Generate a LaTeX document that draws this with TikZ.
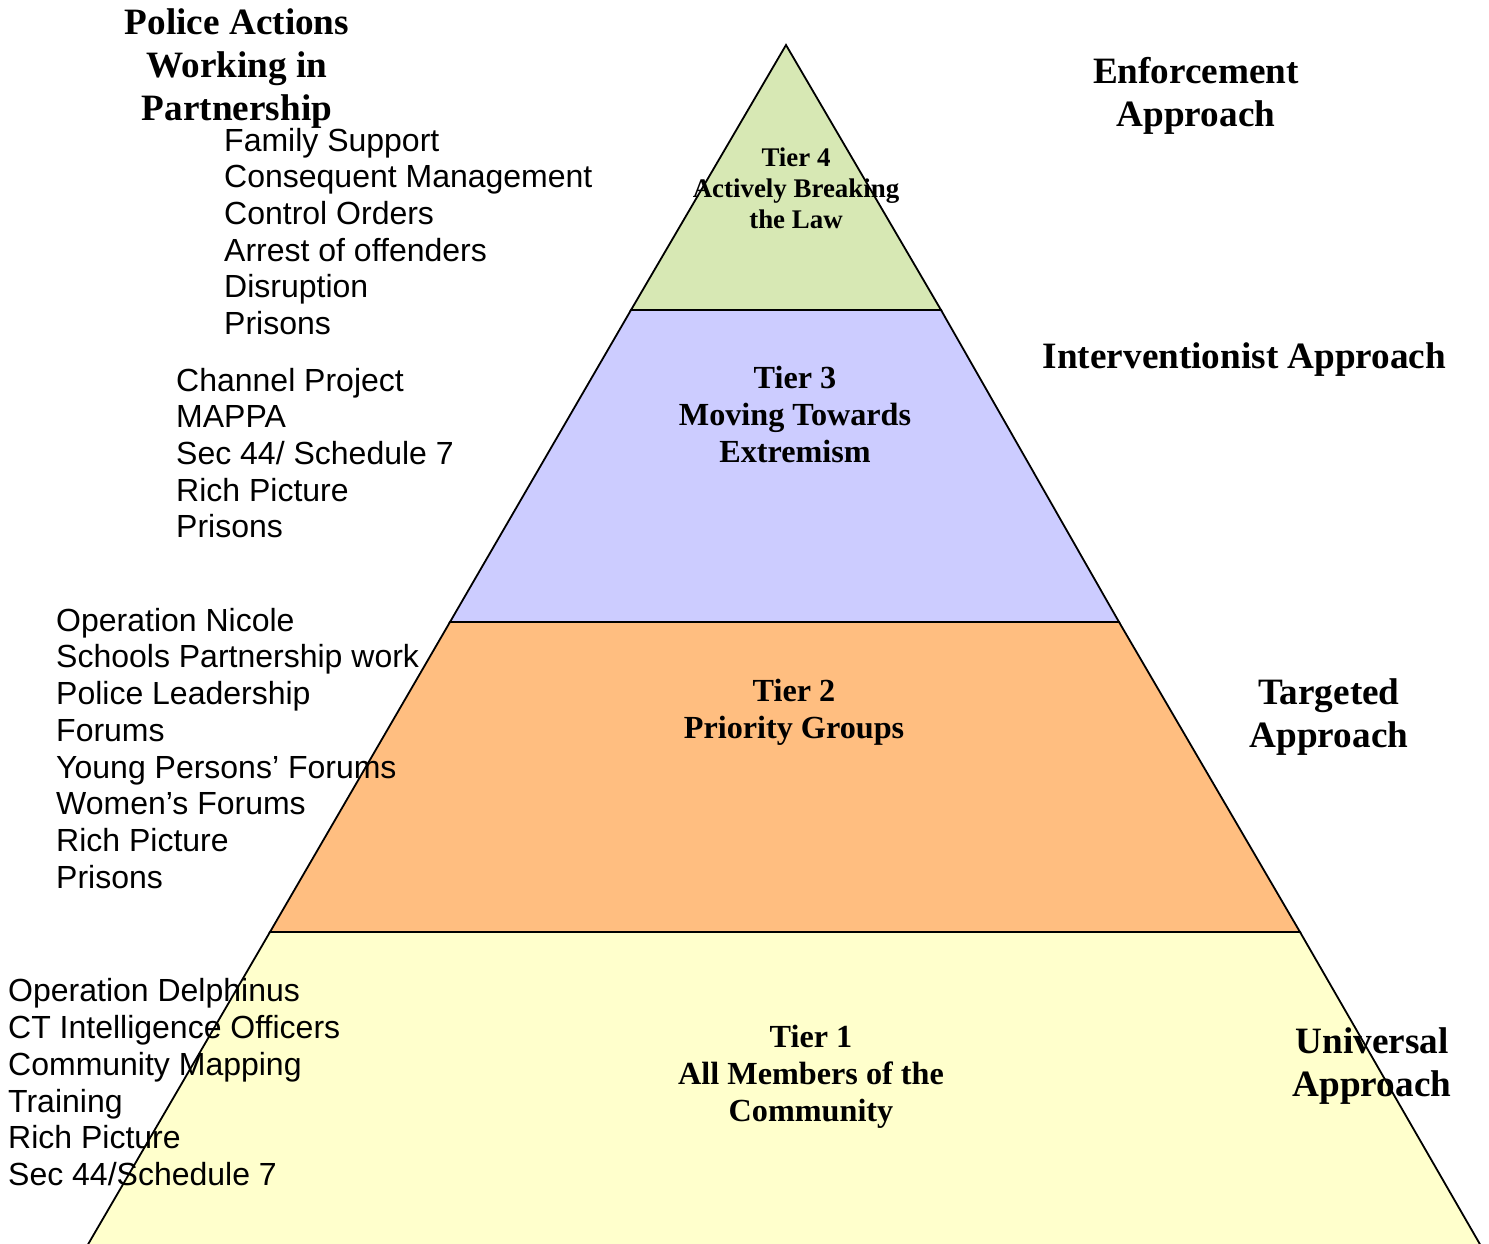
\documentclass[tikz,border=0pt]{standalone}
\usepackage{fontspec}
\setmainfont{Liberation Serif}
\setsansfont{Liberation Sans}
\definecolor{tierfour}{RGB}{215,232,180}
\definecolor{tierthree}{RGB}{204,204,255}
\definecolor{tiertwo}{RGB}{255,190,128}
\definecolor{tierone}{RGB}{255,255,204}
\begin{document}
\begin{tikzpicture}[x=1pt,y=-1pt,
  layer/.style={draw=black,line width=1.8pt,line join=miter},
  heading/.style={inner sep=0pt,anchor=north,align=center,font=\fontsize{37.2}{43}\selectfont\bfseries},
  tierlabel/.style={inner sep=0pt,anchor=north,align=center,font=\fontsize{32.2}{37}\selectfont\bfseries},
  toplabel/.style={inner sep=0pt,anchor=north,align=center,font=\fontsize{26.9}{31}\selectfont\bfseries},
  actionlist/.style={inner sep=0pt,anchor=north west,align=left,font=\fontsize{32}{36.7}\selectfont\sffamily}]
\clip (0,0) rectangle (1489,1243);
\fill[white] (0,0) rectangle (1489,1243);
% pyramid corners
\coordinate (apex) at (786,45);
\coordinate (l4) at (631,310); \coordinate (r4) at (941,310);
\coordinate (l3) at (450,622); \coordinate (r3) at (1119,622);
\coordinate (l2) at (270,932); \coordinate (r2) at (1300,932);
\coordinate (l1) at (89,1243); \coordinate (r1) at (1479,1243);
\coordinate (l0) at (83,1253); \coordinate (r0) at (1485,1253);
% tiers
\filldraw[layer,fill=tierone] (l2) -- (l0) -- (r0) -- (r2) -- cycle;
\filldraw[layer,fill=tiertwo] (l3) -- (l2) -- (r2) -- (r3) -- cycle;
\filldraw[layer,fill=tierthree] (l4) -- (l3) -- (r3) -- (r4) -- cycle;
\filldraw[layer,fill=tierfour] (apex) -- (l4) -- (r4) -- cycle;
% tier labels
\node[toplabel] (t4) at (796,145) {\strut Tier 4\\\strut Actively Breaking\\\strut the Law};
\node[tierlabel] (t3) at (795,362) {\strut Tier 3\\\strut Moving Towards\\\strut Extremism};
\node[tierlabel] (t2) at (794,675) {\strut Tier 2\\\strut Priority Groups};
\node[tierlabel] (t1) at (811,1021) {\strut Tier 1\\\strut All Members of the\\\strut Community};
% approach labels
\node[heading] (enf) at (1196,53) {\strut Enforcement\\\strut Approach};
\node[heading] (intv) at (1244.5,338) {\strut Interventionist Approach};
\node[heading] (targ) at (1329,674) {\strut Targeted\\\strut Approach};
\node[heading] (univ) at (1372,1023) {\strut Universal\\\strut Approach};
% police actions
\node[heading] (police) at (237,4) {\strut Police Actions\\\strut Working in\\\strut Partnership};
\node[actionlist] (list4) at (224,125.3) {\strut Family Support\\\strut Consequent Management\\\strut Control Orders\\\strut Arrest of offenders\\\strut Disruption\\\strut Prisons};
\node[actionlist] (list3) at (176,365.3) {\strut Channel Project\\\strut MAPPA\\\strut Sec 44/ Schedule 7\\\strut Rich Picture\\\strut Prisons};
\node[actionlist] (list2) at (56,605.3) {\strut Operation Nicole\\\strut Schools Partnership work\\\strut Police Leadership\\\strut Forums\\\strut Young Persons’ Forums\\\strut Women’s Forums\\\strut Rich Picture\\\strut Prisons};
\node[actionlist] (list1) at (8,976) {\strut Operation Delphinus\\\strut CT Intelligence Officers\\\strut Community Mapping\\\strut Training\\\strut Rich Picture\\\strut Sec 44/Schedule 7};
\end{tikzpicture}
\end{document}
